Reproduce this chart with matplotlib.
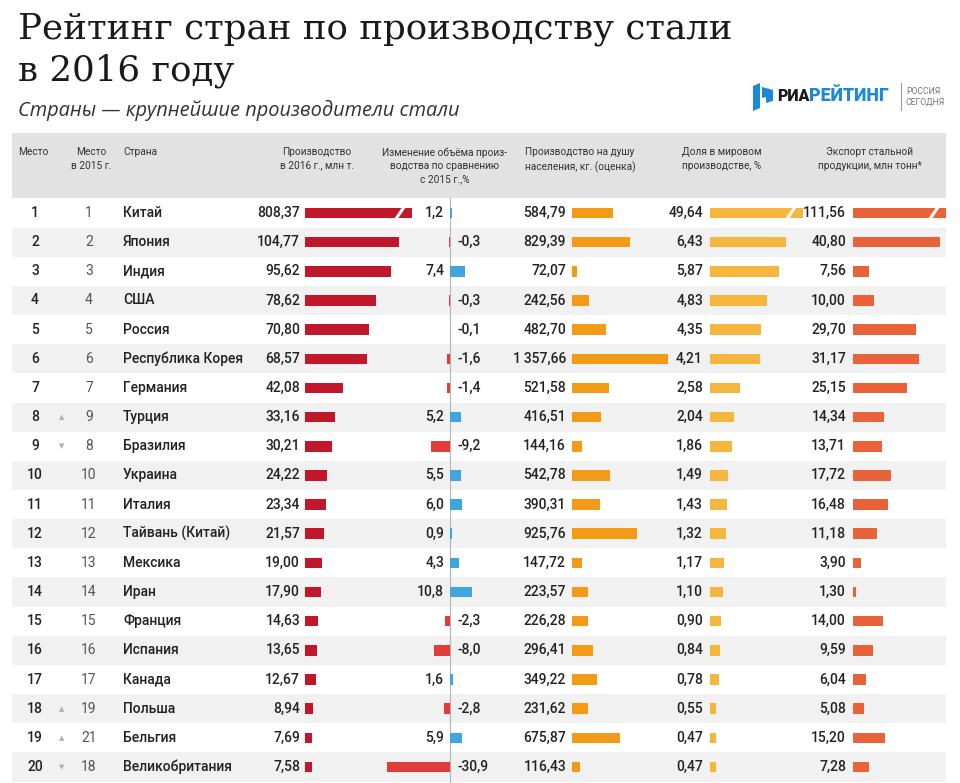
import numpy as np
import matplotlib.pyplot as plt
from matplotlib.patches import Rectangle, Polygon

plt.rcParams['font.family'] = ['Roboto', 'DejaVu Sans']

# данные
ranks = list(range(1, 21))
ranks_2015 = [1, 2, 3, 4, 5, 6, 7, 9, 8, 10, 11, 12, 13, 14, 15, 16, 17, 19, 21, 18]
countries = ['Китай', 'Япония', 'Индия', 'США', 'Россия', 'Республика Корея',
             'Германия', 'Турция', 'Бразилия', 'Украина', 'Италия',
             'Тайвань (Китай)', 'Мексика', 'Иран', 'Франция', 'Испания',
             'Канада', 'Польша', 'Бельгия', 'Великобритания']
production = [808.37, 104.77, 95.62, 78.62, 70.80, 68.57, 42.08, 33.16, 30.21,
              24.22, 23.34, 21.57, 19.00, 17.90, 14.63, 13.65, 12.67, 8.94, 7.69, 7.58]
change = [1.2, -0.3, 7.4, -0.3, -0.1, -1.6, -1.4, 5.2, -9.2, 5.5, 6.0, 0.9,
          4.3, 10.8, -2.3, -8.0, 1.6, -2.8, 5.9, -30.9]
per_capita = [584.79, 829.39, 72.07, 242.56, 482.70, 1357.66, 521.58, 416.51,
              144.16, 542.78, 390.31, 925.76, 147.72, 223.57, 226.28, 296.41,
              349.22, 231.62, 675.87, 116.43]
world_share = [49.64, 6.43, 5.87, 4.83, 4.35, 4.21, 2.58, 2.04, 1.86, 1.49, 1.43,
               1.32, 1.17, 1.10, 0.90, 0.84, 0.78, 0.55, 0.47, 0.47]
export = [111.56, 40.80, 7.56, 10.00, 29.70, 31.17, 25.15, 14.34, 13.71, 17.72,
          16.48, 11.18, 3.90, 1.30, 14.00, 9.59, 6.04, 5.08, 15.20, 7.28]

headers = [
    (33, 'center', 'Место'),
    (91, 'center', 'Место\nв 2015 г.'),
    (123, 'left', 'Страна'),
    (317, 'center', 'Производство\nв 2016 г., млн т.'),
    (445, 'center', 'Изменение объёма произ-\nводства по сравнению\nс 2015 г.,%'),
    (580, 'center', 'Производство на душу\nнаселения, кг. (оценка)'),
    (722, 'center', 'Доля в мировом\nпроизводстве, %'),
    (870, 'center', 'Экспорт стальной\nпродукции, млн тонн*'),
]


def fmt(v, d=2):
    s = f'{v:,.{d}f}'
    return s.replace(',', '\u2009').replace('.', ',')


W, H = 960, 783
fig = plt.figure(figsize=(W / 100, H / 100), dpi=100)
ax = fig.add_axes([0, 0, 1, 1])
ax.set_xlim(0, W)
ax.set_ylim(H, 0)
ax.axis('off')

n = len(ranks)
top, pitch = 198.4, 29.16
bottom = top + n * pitch


def row_y(i):
    return top + (i + 0.5) * pitch


# заголовок
ax.text(18, 39, 'Рейтинг стран по производству стали', fontsize=25.7,
        family='DejaVu Serif', color='#1a1a1a', va='baseline')
ax.text(18, 80, 'в 2016 году', fontsize=25.7, family='DejaVu Serif',
        color='#1a1a1a', va='baseline')
ax.text(18, 116, 'Страны — крупнейшие производители стали', fontsize=14.4,
        family=['Open Sans', 'DejaVu Sans'], style='italic', color='#333333',
        va='baseline')

# логотип
ax.add_patch(Polygon([(753, 86), (760, 83), (760, 108), (753, 111)], color='#1e88d8', lw=0))
ax.add_patch(Polygon([(762, 87), (773, 90), (773, 101), (766, 103), (766, 97), (762, 98)],
                     color='#1e88d8', lw=0))
ax.text(809, 96, 'РИА', fontsize=11.5, fontweight='heavy', color='#1a1a1a',
        ha='right', va='center')
ax.text(809, 96, 'РЕЙТИНГ', fontsize=12.8, fontweight='heavy', color='#1e88d8',
        ha='left', va='center')
ax.plot([901, 901], [83, 110], color='#999999', lw=0.8)
ax.text(906, 91.5, 'РОССИЯ', fontsize=6.2, color='#777777', va='center')
ax.text(906, 101.5, 'СЕГОДНЯ', fontsize=6.2, color='#777777', va='center')

# шапка таблицы и полосы
ax.add_patch(Rectangle((12, 133), 934, top - 133, color='#e2e2e2', lw=0))
for i in range(1, n, 2):
    ax.add_patch(Rectangle((12, top + i * pitch), 934, pitch, color='#f1f1f1', lw=0))

for x, ha, label in headers:
    ax.text(x, 147, label, fontsize=7.3, color='#333333', ha=ha, va='top',
            linespacing=1.45, multialignment='center' if ha == 'center' else 'left')

ax.plot([450, 450], [top, H], color='#b5b5b5', lw=0.8)

# текст строк
for i in range(n):
    y = row_y(i)
    ax.text(35, y, str(ranks[i]), fontsize=10, fontweight='medium', color='#222222',
            ha='center', va='center')
    if ranks_2015[i] != ranks[i]:
        mark = '▲' if ranks_2015[i] > ranks[i] else '▼'
        ax.text(62, y, mark, fontsize=5, color='#b0b0b0', ha='center', va='center',
                family='DejaVu Sans')
    ax.text(89, y, str(ranks_2015[i]), fontsize=10, color='#555555',
            ha='center', va='center')
    ax.text(123, y, countries[i], fontsize=10, fontweight='medium', color='#222222',
            va='center')
    ax.text(300, y, fmt(production[i]), fontsize=10, fontweight='medium',
            color='#222222', ha='right', va='center')
    if change[i] >= 0:
        ax.text(444, y, fmt(change[i], 1), fontsize=10, fontweight='medium',
                color='#222222', ha='right', va='center')
    else:
        ax.text(457, y, fmt(change[i], 1), fontsize=10, fontweight='medium',
                color='#222222', ha='left', va='center')
    ax.text(566, y, fmt(per_capita[i]), fontsize=10, fontweight='medium',
            color='#222222', ha='right', va='center')
    ax.text(703, y, fmt(world_share[i]), fontsize=10, fontweight='medium',
            color='#222222', ha='right', va='center')
    ax.text(846, y, fmt(export[i]), fontsize=10, fontweight='medium',
            color='#222222', ha='right', va='center')


def bar_axes(x0, x1, scale, xmin=0.0):
    a = fig.add_axes([x0 / W, 1 - bottom / H, (x1 - x0) / W, (bottom - top) / H])
    a.set_xlim(xmin, xmin + (x1 - x0) / scale)
    a.set_ylim(n - 0.5, -0.5)
    a.axis('off')
    return a


def capped_bars(a, values, cap, scale, color):
    vals = np.array(values)
    a.barh(np.arange(n), np.minimum(vals, cap), height=0.36, color=color, lw=0)
    for i in np.where(vals > cap)[0]:
        xc = cap - 12 / scale
        a.plot([xc - 4 / scale, xc + 4 / scale], [i + 0.2, i - 0.2],
               color='white', lw=2.2, solid_capstyle='butt')


bh = 0.36
# производство
ax_p = bar_axes(305, 420, 0.9)
capped_bars(ax_p, production, 107 / 0.9, 0.9, '#c0172b')

# изменение
ax_c = bar_axes(380, 480, 2.05, xmin=(380 - 450) / 2.05)
ch = np.array(change)
ax_c.barh(np.arange(n), ch, height=bh, lw=0,
          color=np.where(ch >= 0, '#3ea6dd', '#e23c3a'))

# на душу населения
ax_pc = bar_axes(572, 680, 0.0705)
ax_pc.barh(np.arange(n), per_capita, height=bh, color='#f39b17', lw=0)

# доля
ax_s = bar_axes(710, 810, 11.8)
capped_bars(ax_s, world_share, 93 / 11.8, 11.8, '#f6b53c')

# экспорт
ax_e = bar_axes(853, 950, 2.13)
capped_bars(ax_e, export, 93 / 2.13, 2.13, '#e8633a')

fig.savefig('out.png', dpi=100)
